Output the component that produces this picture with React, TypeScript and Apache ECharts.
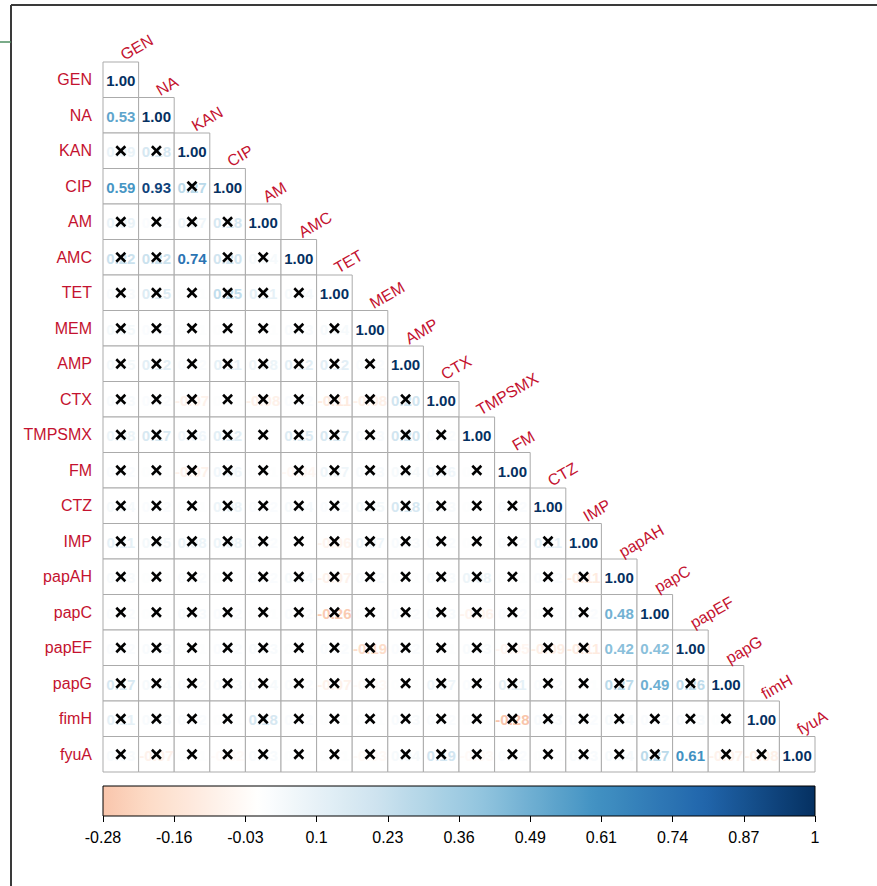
import React, { useEffect, useRef } from "react";
import * as echarts from "echarts";

const VARS = ["GEN", "NA", "KAN", "CIP", "AM", "AMC", "TET", "MEM", "AMP", "CTX", "TMPSMX", "FM", "CTZ", "IMP", "papAH", "papC", "papEF", "papG", "fimH", "fyuA"];

// lower-triangle correlation rows (row i has i+1 values: columns 0..i)
const ROW_GEN = [1];
const ROW_NA = [0.53, 1];
const ROW_KAN = [0.09, 0.18, 1];
const ROW_CIP = [0.59, 0.93, 0.27, 1];
const ROW_AM = [0.09, 0.02, 0.07, 0.18, 1];
const ROW_AMC = [0.22, 0.22, 0.74, 0.2, 0.04, 1];
const ROW_TET = [0.03, 0.15, 0.01, 0.25, 0.11, 0.04, 1];
const ROW_MEM = [0.05, 0.02, 0.01, 0.01, 0.01, 0.03, 0.04, 1];
const ROW_AMP = [0.05, 0.12, 0.02, 0.11, 0.08, 0.12, 0.12, 0.02, 1];
const ROW_CTX = [0.03, 0.02, -0.07, 0.01, -0.08, 0.02, -0.11, -0.08, 0.2, 1];
const ROW_TMPSMX = [0.08, 0.17, 0.06, 0.12, 0.0, 0.15, 0.17, 0.03, 0.2, 0.02, 1];
const ROW_FM = [0.02, 0.01, -0.07, 0.06, 0.01, -0.04, 0.07, 0.03, 0.04, 0.06, 0.01, 1];
const ROW_CTZ = [0.04, 0.02, 0.01, 0.08, 0.02, 0.04, 0.02, 0.05, 0.18, 0.03, 0.01, 0.02, 1];
const ROW_IMP = [0.11, 0.05, 0.08, 0.08, 0.02, 0.0, -0.06, 0.07, 0.03, 0.02, 0.01, 0.02, 0.11, 1];
const ROW_PAPAH = [0.03, 0.01, 0.02, 0.01, 0.02, 0.04, -0.07, 0.02, 0.01, 0.03, 0.08, 0.01, 0.02, -0.11, 1];
const ROW_PAPC = [0.02, 0.01, 0.03, 0.02, 0.01, 0.02, -0.26, 0.01, 0.02, 0.03, -0.06, 0.02, 0.01, 0.02, 0.48, 1];
const ROW_PAPEF = [0.02, 0.03, 0.01, 0.02, 0.03, 0.01, 0.02, -0.19, 0.02, 0.01, 0.03, -0.05, -0.09, -0.11, 0.42, 0.42, 1];
const ROW_PAPG = [0.17, 0.04, 0.02, 0.03, 0.04, 0.02, -0.07, -0.03, 0.01, 0.07, 0.02, 0.11, 0.02, 0.01, 0.27, 0.49, 0.26, 1];
const ROW_FIMH = [0.11, 0.03, 0.02, 0.01, 0.18, 0.02, 0.01, 0.01, 0.03, 0.02, 0.01, -0.28, 0.03, 0.02, 0.04, 0.02, 0.03, 0.01, 1];
const ROW_FYUA = [0.03, -0.07, 0.01, -0.02, 0.03, 0.01, 0.01, -0.03, 0.04, 0.19, -0.03, 0.02, 0.01, 0.03, 0.04, 0.27, 0.61, -0.07, -0.08, 1];

const CORR_ROWS = [ROW_GEN, ROW_NA, ROW_KAN, ROW_CIP, ROW_AM, ROW_AMC, ROW_TET, ROW_MEM, ROW_AMP, ROW_CTX, ROW_TMPSMX, ROW_FM, ROW_CTZ, ROW_IMP, ROW_PAPAH, ROW_PAPC, ROW_PAPEF, ROW_PAPG, ROW_FIMH, ROW_FYUA];

// off-diagonal pairs that are significant (not crossed out)
const SIGNIFICANT_PAIRS = [
  ["NA", "GEN"], ["CIP", "GEN"], ["CIP", "NA"], ["AMC", "KAN"],
  ["papC", "papAH"], ["papEF", "papAH"], ["papEF", "papC"], ["papG", "papC"], ["fyuA", "papEF"],
];

const BAR_TICKS = ["-0.28", "-0.16", "-0.03", "0.1", "0.23", "0.36", "0.49", "0.61", "0.74", "0.87", "1"];
const BAR_MIN = -0.28;
const BAR_MAX = 1;

const PALETTE = ["#67001F", "#B2182B", "#D6604D", "#F4A582", "#FDDBC7", "#FFFFFF", "#D1E5F0", "#92C5DE", "#4393C3", "#2166AC", "#053061"];

function hexToRgb(h: string) {
  return [parseInt(h.slice(1, 3), 16), parseInt(h.slice(3, 5), 16), parseInt(h.slice(5, 7), 16)];
}
function colorFor(v: number) {
  const t = Math.max(0, Math.min(10, ((v + 1) / 2) * 10));
  const i = Math.min(9, Math.floor(t));
  const f = t - i;
  const a = hexToRgb(PALETTE[i]);
  const b = hexToRgb(PALETTE[i + 1]);
  const c = a.map((x, k) => Math.round(x + (b[k] - x) * f));
  return `rgb(${c[0]},${c[1]},${c[2]})`;
}

const LABEL_RED = "#C4122F";
const FONT = "Arial, 'Liberation Sans', sans-serif";
const LABEL_ANGLE = (30 * Math.PI) / 180;

export default function App() {
  const ref = useRef<HTMLDivElement>(null);
  useEffect(() => {
    if (!ref.current) return;
    const chart = echarts.init(ref.current, null, { renderer: "svg" });
    const sigSet = new Set(SIGNIFICANT_PAIRS.map((p) => p[0] + "|" + p[1]));
    const cells: any[] = [];
    CORR_ROWS.forEach((row, i) => {
      row.forEach((v, j) => {
        const sig = i === j || sigSet.has(VARS[i] + "|" + VARS[j]) ? 1 : 0;
        cells.push([j, i, v, sig]);
      });
    });

    const stops: any[] = [];
    const N = 60;
    for (let k = 0; k <= N; k++) {
      const val = BAR_MIN + ((BAR_MAX - BAR_MIN) * k) / N;
      stops.push({ offset: k / N, color: colorFor(val) });
    }

    const option: any = {
      animation: false,
      backgroundColor: "#ffffff",
      grid: [
        { left: 103, top: 62, width: 712, height: 710 },
        { left: 103, top: 786, width: 712, height: 30 },
      ],
      xAxis: [
        { gridIndex: 0, type: "category", data: VARS, show: false },
        {
          gridIndex: 1, type: "value", min: 0, max: 10, interval: 1,
          axisLine: { show: false },
          axisTick: { show: true, length: 6, lineStyle: { color: "#000", width: 1 } },
          splitLine: { show: false },
          axisLabel: {
            formatter: (v: number) => BAR_TICKS[Math.round(v)],
            color: "#000", fontSize: 16, margin: 13,
            fontFamily: FONT,
          },
        },
      ],
      yAxis: [
        {
          gridIndex: 0, type: "category", data: VARS, inverse: true,
          axisLine: { show: false }, axisTick: { show: false }, splitLine: { show: false },
          axisLabel: { color: LABEL_RED, fontSize: 16, margin: 11, fontFamily: FONT },
        },
        { gridIndex: 1, type: "value", min: 0, max: 1, show: false },
      ],
      series: [
        {
          type: "custom",
          xAxisIndex: 0, yAxisIndex: 0,
          data: cells,
          renderItem: (params: any, api: any) => {
            const j = api.value(0);
            const i = api.value(1);
            const v = api.value(2);
            const sig = api.value(3);
            const c = api.coord([j, i]);
            const s = api.size([1, 1]);
            const x0 = c[0] - s[0] / 2;
            const y0 = c[1] - s[1] / 2;
            const children: any[] = [
              {
                type: "rect",
                shape: { x: x0, y: y0, width: s[0], height: s[1] },
                style: { fill: "#fff", stroke: "#ABABAB", lineWidth: 1 },
              },
              {
                type: "text",
                style: {
                  text: v.toFixed(2), x: c[0], y: c[1] + 1, align: "center", verticalAlign: "middle",
                  fill: colorFor(v), font: `bold 15px ${FONT}`,
                },
              },
            ];
            if (!sig) {
              const d = 4.5;
              children.push(
                { type: "line", shape: { x1: c[0] - d, y1: c[1] - d, x2: c[0] + d, y2: c[1] + d }, style: { stroke: "#000", lineWidth: 2.6 } },
                { type: "line", shape: { x1: c[0] - d, y1: c[1] + d, x2: c[0] + d, y2: c[1] - d }, style: { stroke: "#000", lineWidth: 2.6 } },
              );
            }
            if (i === j) {
              children.push({
                type: "text",
                x: c[0] + 5, y: y0 + 1,
                rotation: LABEL_ANGLE,
                style: {
                  text: VARS[j], x: 0, y: 0, align: "left", verticalAlign: "bottom",
                  fill: LABEL_RED, font: `16px ${FONT}`,
                },
              });
            }
            return { type: "group", children };
          },
        },
        {
          type: "custom",
          xAxisIndex: 1, yAxisIndex: 1,
          data: [[0, 0]],
          renderItem: (params: any, api: any) => {
            const p0 = api.coord([0, 0]);
            const p1 = api.coord([10, 1]);
            return {
              type: "rect",
              shape: { x: p0[0], y: p1[1], width: p1[0] - p0[0], height: p0[1] - p1[1] },
              style: {
                fill: new echarts.graphic.LinearGradient(0, 0, 1, 0, stops),
                stroke: "#000", lineWidth: 1,
              },
            };
          },
        },
      ],
      graphic: [
        { type: "line", shape: { x1: 11, y1: 5, x2: 877, y2: 5 }, style: { stroke: "#3a3a3a", lineWidth: 2 } },
        { type: "line", shape: { x1: 11, y1: 5, x2: 11, y2: 886 }, style: { stroke: "#3a3a3a", lineWidth: 2 } },
        { type: "line", shape: { x1: 0, y1: 42, x2: 11, y2: 42 }, style: { stroke: "#4E8F62", lineWidth: 1.5 } },
      ],
    };
    chart.setOption(option);
    return () => chart.dispose();
  }, []);
  return <div ref={ref} style={{ position: "absolute", left: 0, top: 0, width: 877, height: 886 }} />;
}
